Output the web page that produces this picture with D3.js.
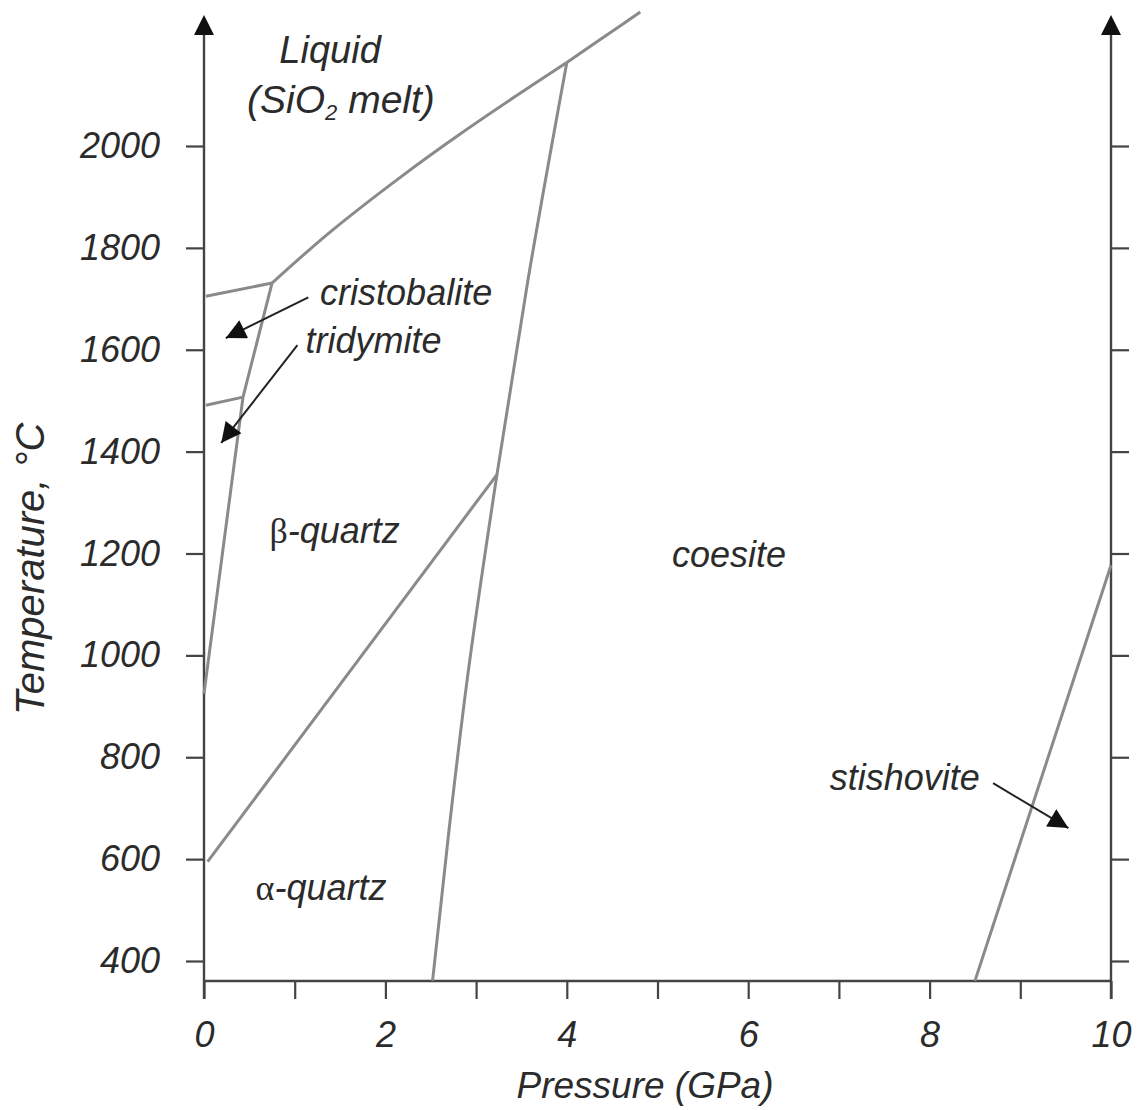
<!DOCTYPE html>
<html>
<head>
<meta charset="utf-8">
<script src="https://cdn.jsdelivr.net/npm/d3@7"></script>
<style>
  body { margin: 0; background: #fff; }
  svg text { font-family: "Liberation Sans", Arial, sans-serif; font-style: italic; fill: #2b2b2b; }
</style>
</head>
<body>
<div id="wrapper"></div>
<script>
// axis ticks
const pressureTicks = [0, 1, 2, 3, 4, 5, 6, 7, 8, 9, 10];
const pressureLabels = ["0", "", "2", "", "4", "", "6", "", "8", "", "10"];
const tempTicks = [400, 600, 800, 1000, 1200, 1400, 1600, 1800, 2000];

// phase boundaries, [pressure GPa, temperature °C]
const liquidus = [[0.75, 1731], [1.39, 1831], [2.16, 1938], [2.82, 2023], [3.48, 2103], [4.0, 2164]];
const coesiteLiquid = [[4.0, 2164], [4.36, 2208], [4.81, 2263]];
const cristobaliteLiquid = [[0.02, 1705], [0.75, 1731]];
const tridymiteCristobalite = [[0.02, 1491], [0.43, 1507]];
const betaQuartzTop = [[0, 925], [0.43, 1507], [0.75, 1731]];
const alphaBeta = [[0.04, 595], [3.23, 1355]];
const quartzCoesite = [[2.52, 361], [2.7, 655], [2.9, 950], [3.23, 1355], [3.57, 1735], [4.0, 2164]];
const coesiteStishovite = [[8.5, 361], [10, 1177]];

// phase names: [label, pressure, temperature]
const phaseLabels = [
  ["coesite", 5.16, 1173],
  ["cristobalite", 1.28, 1688],
  ["tridymite", 1.12, 1594],
  ["stishovite", 6.9, 736],
];
const greekLabels = [
  ["β", "-quartz", 1.44, 1221],
  ["α", "-quartz", 1.29, 520],
];
// pointer arrows: [from, to]
const pointers = [
  [[1.15, 1703], [0.24, 1623]],
  [[1.03, 1609], [0.19, 1417]],
  [[8.7, 749], [9.53, 661]],
];

async function drawDiagram() {
  const dimensions = { width: 1148, height: 1110 };

  const x = d3.scaleLinear().domain([0, 10]).range([204, 1111]);
  const y = d3.scaleLinear().domain([400, 2000]).range([961, 146]);
  const yBottom = 981;
  const yTop = 35;

  const svg = d3.select("#wrapper")
    .append("svg")
    .attr("width", dimensions.width)
    .attr("height", dimensions.height);

  const defs = svg.append("defs");
  defs.append("marker")
    .attr("id", "head")
    .attr("viewBox", "0 0 10 10")
    .attr("refX", 10)
    .attr("refY", 5)
    .attr("markerWidth", 11)
    .attr("markerHeight", 10)
    .attr("markerUnits", "strokeWidth")
    .attr("orient", "auto")
    .append("path")
    .attr("d", "M0,0 L10,5 L0,10 z")
    .attr("fill", "#111");

  // bottom axis
  const xAxis = svg.append("g")
    .attr("transform", `translate(0,${yBottom})`)
    .call(d3.axisBottom(x)
      .tickValues(pressureTicks)
      .tickSize(18)
      .tickSizeOuter(0)
      .tickPadding(22)
      .tickFormat((d, i) => pressureLabels[i]));

  // left and right axes
  const yLeft = svg.append("g")
    .attr("transform", `translate(${x(0)},0)`)
    .call(d3.axisLeft(y)
      .tickValues(tempTicks)
      .tickSize(18)
      .tickSizeOuter(0)
      .tickPadding(26)
      .tickFormat(d3.format("d")));
  const yRight = svg.append("g")
    .attr("transform", `translate(${x(10)},0)`)
    .call(d3.axisRight(y).tickValues(tempTicks).tickSize(18).tickSizeOuter(0).tickFormat(""));

  [xAxis, yLeft, yRight].forEach((g) => {
    g.select(".domain").remove();
    g.selectAll(".tick line").attr("stroke", "#444").attr("stroke-width", 2.2);
    g.selectAll(".tick text").attr("font-size", 36).attr("fill", "#2b2b2b")
      .style("font-family", '"Liberation Sans", Arial, sans-serif');
  });

  svg.append("line")
    .attr("x1", x(0)).attr("x2", x(10))
    .attr("y1", yBottom).attr("y2", yBottom)
    .attr("stroke", "#444").attr("stroke-width", 2.4);

  [0, 10].forEach((p) => {
    svg.append("line")
      .attr("x1", x(p)).attr("x2", x(p))
      .attr("y1", yBottom + 18).attr("y2", yTop)
      .attr("stroke", "#444").attr("stroke-width", 2.4);
    svg.append("path")
      .attr("d", `M${x(p)},${yTop - 20} L${x(p) + 10},${yTop} L${x(p) - 10},${yTop} z`)
      .attr("fill", "#111");
  });

  // phase boundaries
  const line = d3.line().x((d) => x(d[0])).y((d) => y(d[1]));
  const smooth = d3.line().x((d) => x(d[0])).y((d) => y(d[1])).curve(d3.curveCatmullRom.alpha(0.5));
  const curveX = d3.line().x((d) => x(d[0])).y((d) => y(d[1])).curve(d3.curveMonotoneX);
  const curveY = d3.line().x((d) => x(d[0])).y((d) => y(d[1])).curve(d3.curveMonotoneY);

  const boundaries = svg.append("g")
    .attr("fill", "none")
    .attr("stroke", "#8a8a8a")
    .attr("stroke-width", 3)
    .attr("stroke-linejoin", "round");

  boundaries.append("path").attr("d", smooth(liquidus));
  boundaries.append("path").attr("d", curveX(coesiteLiquid));
  boundaries.append("path").attr("d", line(cristobaliteLiquid));
  boundaries.append("path").attr("d", line(tridymiteCristobalite));
  boundaries.append("path").attr("d", line(betaQuartzTop));
  boundaries.append("path").attr("d", line(alphaBeta));
  boundaries.append("path").attr("d", curveY(quartzCoesite));
  boundaries.append("path").attr("d", line(coesiteStishovite));

  // pointers
  svg.append("g")
    .selectAll("line")
    .data(pointers)
    .enter()
    .append("line")
    .attr("x1", (d) => x(d[0][0]))
    .attr("y1", (d) => y(d[0][1]))
    .attr("x2", (d) => x(d[1][0]))
    .attr("y2", (d) => y(d[1][1]))
    .attr("stroke", "#222")
    .attr("stroke-width", 2)
    .attr("marker-end", "url(#head)");

  // labels
  svg.append("g")
    .selectAll("text")
    .data(phaseLabels)
    .enter()
    .append("text")
    .attr("x", (d) => x(d[1]))
    .attr("y", (d) => y(d[2]))
    .attr("font-size", 36)
    .text((d) => d[0]);

  const greek = svg.append("g")
    .selectAll("text")
    .data(greekLabels)
    .enter()
    .append("text")
    .attr("x", (d) => x(d[2]))
    .attr("y", (d) => y(d[3]))
    .attr("text-anchor", "middle")
    .attr("font-size", 36);
  greek.append("tspan")
    .style("font-family", '"Liberation Serif", "DejaVu Serif", serif')
    .style("font-style", "normal")
    .text((d) => d[0]);
  greek.append("tspan").text((d) => d[1]);

  svg.append("text")
    .attr("x", x(1.39))
    .attr("y", y(2163))
    .attr("text-anchor", "middle")
    .attr("font-size", 38)
    .text("Liquid");

  const melt = svg.append("text")
    .attr("x", x(1.51))
    .attr("y", y(2065))
    .attr("text-anchor", "middle")
    .attr("font-size", 39);
  melt.append("tspan").text("(SiO");
  melt.append("tspan").attr("font-size", 22).attr("dy", 7).text("2");
  melt.append("tspan").attr("dy", -7).text(" melt)");

  // axis titles
  svg.append("text")
    .attr("x", 645)
    .attr("y", 1098)
    .attr("text-anchor", "middle")
    .attr("font-size", 37)
    .text("Pressure (GPa)");

  svg.append("text")
    .attr("transform", `translate(44,${y(1170)}) rotate(-90)`)
    .attr("text-anchor", "middle")
    .attr("font-size", 40)
    .text("Temperature, °C");
}

drawDiagram();
</script>
</body>
</html>
